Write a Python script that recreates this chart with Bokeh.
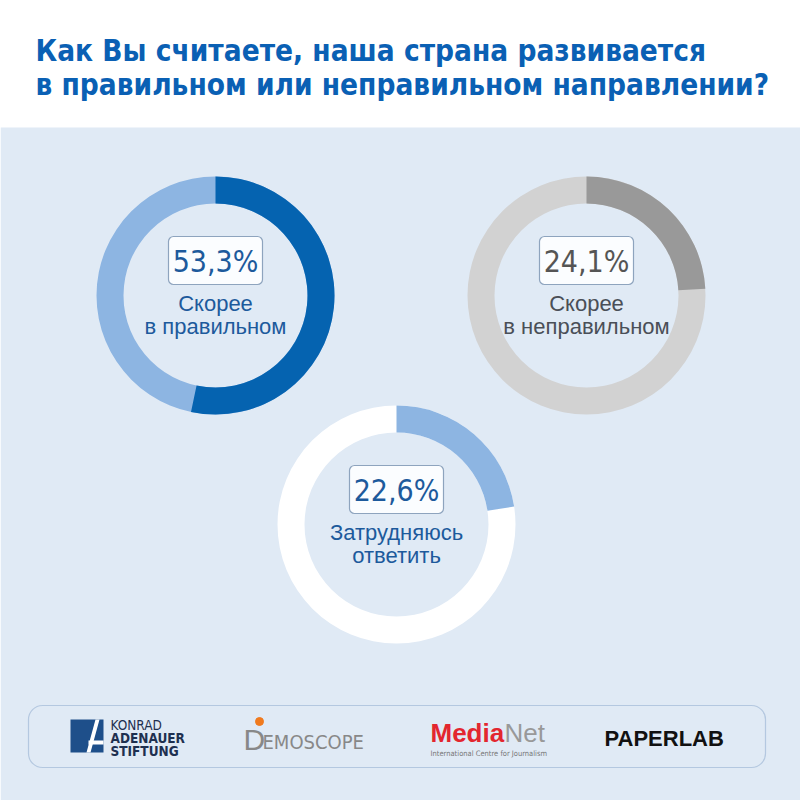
from bokeh.plotting import figure
from bokeh.models import Range1d, BoxAnnotation, ColumnDataSource
from bokeh.core.properties import value
from bokeh.embed import file_html
from bokeh.resources import INLINE
import math

# ---------------- data ----------------
title_lines = ["Как Вы считаете, наша страна развивается",
               "в правильном или неправильном направлении?"]
answers_line1 = ["Скорее", "Скорее", "Затрудняюсь"]
answers_line2 = ["в правильном", "в неправильном", "ответить"]
shares = [53.3, 24.1, 22.6]
share_labels = ["53,3%", "24,1%", "22,6%"]

# ---------------- style / layout ----------------
W = H = 800
centers_x = [215, 586, 396]
centers_y_img = [295, 295, 524]
R_OUT, R_IN = 119, 92
main_col = ["#0563b0", "#999999", "#8db5e2"]
rest_col = ["#8db5e2", "#d2d2d2", "#ffffff"]
text_col = ["#1d5a9c", "#4a4f57", "#1d5a9c"]
num_col = ["#1d5a9c", "#555555", "#1d5a9c"]
BG = "#e0eaf5"
TITLE = "#0a60b4"
NARROW = "Liberation Sans Narrow, DejaVu Sans Condensed, Roboto, sans-serif"
SANS = "Liberation Sans, Arial, sans-serif"

def Y(y):
    return H - y

p = figure(width=W, height=H, x_range=Range1d(0, W), y_range=Range1d(0, H),
           output_backend="svg", toolbar_location=None, min_border=0)
p.axis.visible = False
p.grid.visible = False
p.outline_line_color = None
p.background_fill_color = "white"
p.border_fill_color = "white"

# blue area
p.add_layout(BoxAnnotation(left=0, right=W, bottom=0, top=Y(127),
                           fill_color=BG, fill_alpha=1, line_color=None, level="underlay"))

# title
for i, t in enumerate(title_lines):
    p.text(x=[35], y=[Y(50 + 34 * i)], text=[t], text_color=TITLE,
           text_font=value(NARROW), text_font_style="bold", text_font_size="29.5px",
           text_align="left", text_baseline="middle")

# donuts
cx = centers_x
cy = [Y(v) for v in centers_y_img]
start = [math.pi / 2] * 3
end = [math.pi / 2 - 2 * math.pi * s / 100 for s in shares]
src = ColumnDataSource(dict(x=cx, y=cy, s=start, e=end, main=main_col, rest=rest_col))
p.annulus(x="x", y="y", inner_radius=R_IN, outer_radius=R_OUT, fill_color="rest",
          line_color=None, source=src)
p.annular_wedge(x="x", y="y", inner_radius=R_IN, outer_radius=R_OUT, start_angle="s",
                end_angle="e", direction="clock", fill_color="main", line_color=None, source=src)

# value boxes and labels
for i in range(3):
    bx = cx[i]
    by = centers_y_img[i] - 35
    p.add_layout(BoxAnnotation(left=bx - 47, right=bx + 47, top=Y(by - 24), bottom=Y(by + 24),
                               fill_color="#fbfdff", fill_alpha=1, line_color="#8ea4be",
                               line_alpha=1, line_width=1.2, border_radius=5, level="underlay"))
    p.text(x=[bx], y=[Y(by + 1)], text=[share_labels[i]], text_color=num_col[i],
           text_font=value(NARROW), text_font_size="30px",
           text_align="center", text_baseline="middle")
    p.text(x=[bx], y=[Y(centers_y_img[i] + 8)], text=[answers_line1[i]], text_color=text_col[i],
           text_font=value(SANS), text_font_size="22px",
           text_align="center", text_baseline="middle")
    p.text(x=[bx], y=[Y(centers_y_img[i] + 31)], text=[answers_line2[i]], text_color=text_col[i],
           text_font=value(SANS), text_font_size="22px",
           text_align="center", text_baseline="middle")

# logo strip
p.add_layout(BoxAnnotation(left=28, right=765, top=Y(705), bottom=Y(767),
                           fill_color=BG, fill_alpha=1, line_color="#4f79b0",
                           line_width=1.2, border_radius=14, level="underlay"))
# KAS
p.quad(left=[70], right=[103], top=[Y(719)], bottom=[Y(752)], fill_color="#1e4f8a", line_color=None)
p.patch(x=[86, 95, 99, 90], y=[Y(752), Y(719), Y(719), Y(752)], fill_color="white", line_color=None)
p.quad(left=[88], right=[103], top=[Y(740)], bottom=[Y(744)], fill_color="white", line_color=None)
for j, (t, st) in enumerate([("KONRAD", "normal"), ("ADENAUER", "bold"), ("STIFTUNG", "bold")]):
    p.text(x=[110], y=[Y(724 + 13 * j)], text=[t], text_color="#1e3050",
           text_font=value(NARROW), text_font_style=st, text_font_size="13.5px",
           text_align="left", text_baseline="middle")
# Demoscope
p.text(x=[243], y=[Y(739)], text=["D"], text_color="#888888", text_font=value(SANS),
       text_font_size="30px", text_align="left", text_baseline="middle")
p.scatter(x=[259], y=[Y(721)], size=8, color="#f07a1e")
p.text(x=[262], y=[Y(741)], text=["EMOSCOPE"], text_color="#888888", text_font=value(NARROW),
       text_font_size="20px", text_align="left", text_baseline="middle")
# MediaNet
p.text(x=[430], y=[Y(732)], text=["Media"], text_color="#e3262f", text_font=value(SANS),
       text_font_style="bold", text_font_size="26px", text_align="left", text_baseline="middle")
p.text(x=[504], y=[Y(732)], text=["Net"], text_color="#999999", text_font=value(SANS),
       text_font_size="26px", text_align="left", text_baseline="middle")
p.text(x=[430], y=[Y(753)], text=["International Centre for Journalism"], text_color="#777777",
       text_font=value(NARROW), text_font_size="7.5px", text_align="left", text_baseline="middle")
# PaperLab
p.text(x=[604], y=[Y(738)], text=["PAPERLAB"], text_color="#111111", text_font=value(SANS),
       text_font_style="bold", text_font_size="22px", text_align="left", text_baseline="middle")

open("out.html", "w").write(file_html(p, INLINE))
